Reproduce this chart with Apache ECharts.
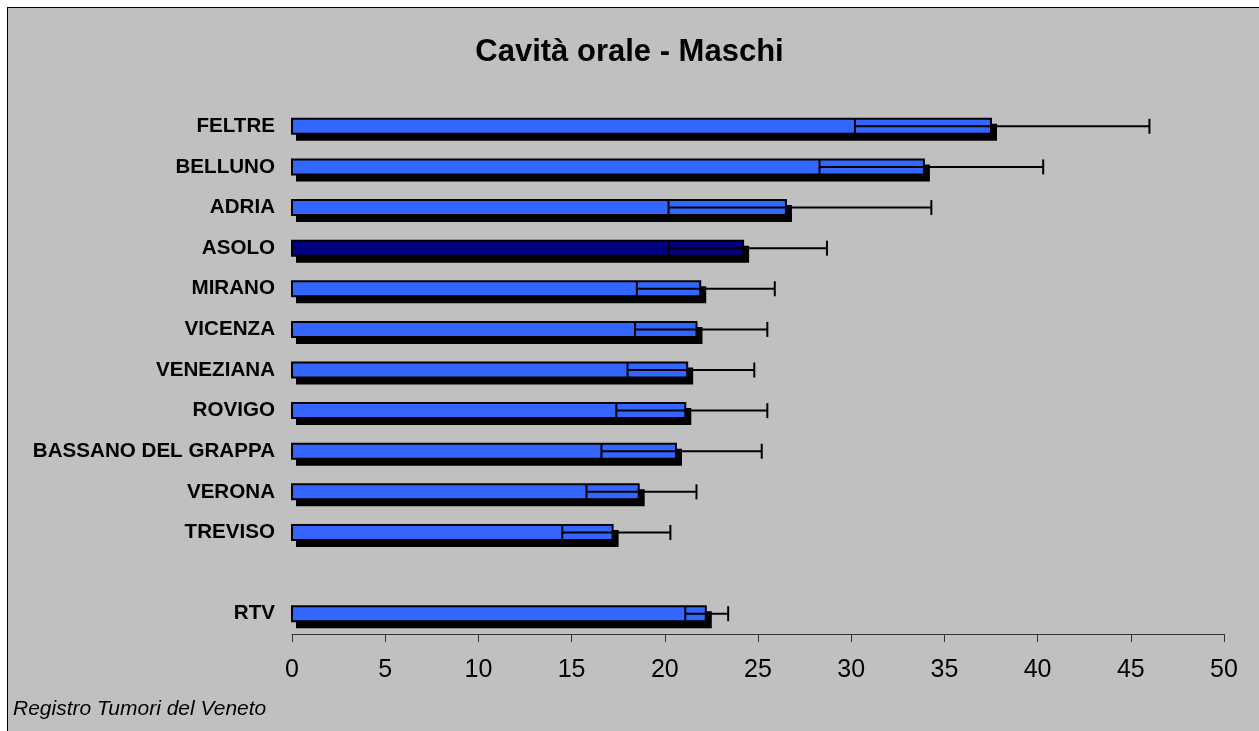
<!DOCTYPE html>
<html>
<head>
<meta charset="utf-8">
<script src="https://cdn.jsdelivr.net/npm/echarts@6/dist/echarts.min.js"></script>
<style>
	body { margin: 0; background: #fff; }
	#frame { position: absolute; left: 7px; top: 7px; width: 1260px; height: 730px; background: #C0C0C0; border: 1px solid #000; }
	#chart { position: absolute; left: 0; top: 0; width: 1259px; height: 731px; }
</style>
</head>
<body>
<div id="frame"></div>
<div id="chart"></div>
<script>
// tassi standardizzati e intervalli di confidenza
const categories = ['FELTRE', 'BELLUNO', 'ADRIA', 'ASOLO', 'MIRANO', 'VICENZA', 'VENEZIANA', 'ROVIGO', 'BASSANO DEL GRAPPA', 'VERONA', 'TREVISO', '', 'RTV'];
const rates = [37.5, 33.9, 26.5, 24.2, 21.9, 21.7, 21.2, 21.1, 20.6, 18.6, 17.2, null, 22.2];
const lower = [30.2, 28.3, 20.2, 20.2, 18.5, 18.4, 18.0, 17.4, 16.6, 15.8, 14.5, null, 21.1];
const upper = [46.0, 40.3, 34.3, 28.7, 25.9, 25.5, 24.8, 25.5, 25.2, 21.7, 20.3, null, 23.4];
const highlight = 'ASOLO';
const xTicks = [0, 50, 5]; // min, max, interval

const seriesData = [];
categories.forEach((c, i) => {
	if (rates[i] !== null) seriesData.push([i, rates[i], lower[i], upper[i]]);
});

const renderBar = (params, api) => {
	const idx = api.value(0);
	const p0 = api.coord([0, idx]);
	const pv = api.coord([api.value(1), idx]);
	const pl = api.coord([api.value(2), idx]);
	const pu = api.coord([api.value(3), idx]);
	const cy = p0[1];
	const h = 15; // altezza barra (senza bordo)
	const cap = 7.5;
	const color = categories[idx] === highlight ? '#000080' : '#3366FF';
	return {
		type: 'group',
		children: [
			{ // ombra
				type: 'rect',
				shape: { x: p0[0] - 1 + 5, y: cy - h / 2 - 1 + 6, width: pv[0] - p0[0] + 2, height: h + 2 },
				style: { fill: '#000' },
			},
			{
				type: 'rect',
				shape: { x: p0[0], y: cy - h / 2, width: pv[0] - p0[0], height: h },
				style: { fill: color, stroke: '#000', lineWidth: 2 },
			},
			{
				type: 'line',
				shape: { x1: pl[0], y1: cy, x2: pu[0], y2: cy },
				style: { stroke: '#000', lineWidth: 2 },
			},
			{
				type: 'line',
				shape: { x1: pl[0], y1: cy - cap, x2: pl[0], y2: cy + cap },
				style: { stroke: '#000', lineWidth: 2 },
			},
			{
				type: 'line',
				shape: { x1: pu[0], y1: cy - cap, x2: pu[0], y2: cy + cap },
				style: { stroke: '#000', lineWidth: 2 },
			},
		],
	};
};

const chart = echarts.init(document.getElementById('chart'));
chart.setOption({
	backgroundColor: 'transparent',
	animation: false,
	title: {
		text: 'Cavità orale - Maschi',
		left: 'center',
		top: 32,
		textStyle: { fontFamily: 'Liberation Sans, Arial', fontSize: 31, fontWeight: 'bold', color: '#000' },
	},
	graphic: [{
		type: 'text',
		left: 13,
		top: 699,
		style: { text: 'Registro Tumori del Veneto', font: 'italic 21px "Liberation Sans", Arial', fill: '#000' },
	}],
	grid: { left: 292, right: 35, top: 106, bottom: 97 },
	xAxis: {
		type: 'value',
		min: xTicks[0],
		max: xTicks[1],
		interval: xTicks[2],
		splitLine: { show: false },
		axisLine: { show: true, lineStyle: { color: '#333', width: 1 } },
		axisTick: { show: true, length: 8, lineStyle: { color: '#333' } },
		axisLabel: { margin: 24, fontSize: 25, color: '#000', fontFamily: 'Liberation Sans, Arial' },
	},
	yAxis: {
		type: 'category',
		data: categories,
		inverse: true,
		axisLine: { show: false },
		axisTick: { show: false },
		axisLabel: { margin: 17, fontSize: 20.6, fontWeight: 'bold', color: '#000', fontFamily: 'Liberation Sans, Arial' },
	},
	series: [{
		type: 'custom',
		renderItem: renderBar,
		encode: { x: [1, 2, 3], y: 0 },
		data: seriesData,
	}],
});
</script>
</body>
</html>
